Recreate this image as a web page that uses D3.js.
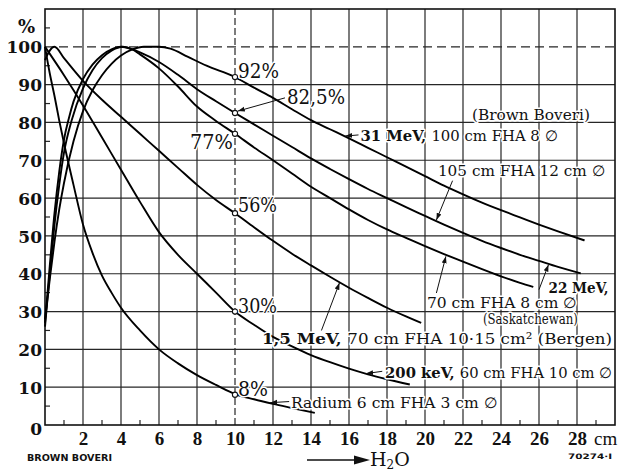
<!DOCTYPE html>
<html>
<head>
<meta charset="utf-8">
<script src="https://cdn.jsdelivr.net/npm/d3@7"></script>
<style>
  body { margin: 0; background: #fff; }
  svg text { font-family: "DejaVu Serif", serif; fill: #111; }
  .halo { paint-order: stroke; stroke: #fff; stroke-width: 3px; stroke-linejoin: round; }
</style>
</head>
<body>
<svg id="chart" width="621" height="471"></svg>
<script>
// depth in water (cm) against dose (% of maximum)
const radium = [[0, 100], [0.25, 93], [0.5, 87], [0.75, 80.5], [1, 74.5], [1.5, 63.5], [2, 53], [2.5, 45.5], [3, 39.5], [3.5, 35], [4, 31], [5, 25], [6, 20], [7, 16.3], [8, 13.2], [9, 10.6], [10, 8.2], [11, 6.8], [12, 5.6], [13, 4.5], [14.2, 3.2]];
const kev200 = [[0, 100], [1, 92.5], [2, 84.5], [3, 76], [4, 67.5], [5, 59], [6, 51], [7, 45], [8, 40], [9, 35], [10, 30], [11, 26.5], [12, 23.3], [13, 20.8], [14, 18.5], [15, 16.6], [16, 14.9], [17, 13.4], [18, 12.1], [19.2, 10.7]];
const mev15 = [[0, 96.5], [0.25, 99], [0.5, 100], [1, 97], [2, 91], [3, 86], [4, 81.5], [5, 77], [6, 72.5], [7, 68], [8, 63.5], [9, 59.5], [10, 56], [11, 52.3], [12, 48.7], [13, 45.3], [14, 42.2], [15, 39.2], [16, 36.3], [17, 33.6], [18, 31], [19, 28.7], [19.8, 27]];
const mev31 = [[0, 28], [0.25, 38.5], [0.5, 48.5], [0.75, 57], [1, 64], [1.5, 75], [2, 83], [2.5, 88.5], [3, 92.5], [3.5, 95.5], [4, 97.7], [4.6, 99.3], [5.2, 100], [6, 100], [6.6, 99.5], [7.5, 97.4], [8.5, 95], [10, 92], [11, 89.2], [12, 86.5], [13, 83.5], [14, 80.6], [15, 78.2], [16, 75.8], [17, 73.3], [18, 70.8], [19, 68.3], [20, 65.8], [21, 63.3], [22, 61], [23, 58.8], [24, 56.8], [25, 54.9], [26, 53], [27, 51.2], [28.4, 48.8]];
const mev22wide = [[0, 27], [0.25, 42], [0.5, 56], [0.75, 67], [1, 75.5], [1.25, 81], [1.5, 85.5], [2, 91.5], [2.5, 95.3], [3, 97.8], [3.5, 99.3], [4, 100], [4.6, 99.3], [5, 98.5], [6, 96], [7, 92.6], [8, 88.8], [9, 85.6], [10, 82.5], [11, 79.5], [12, 76.5], [13, 73.5], [14, 70.5], [15, 67.7], [16, 65], [17, 62.4], [18, 60], [19, 57.6], [20, 55.3], [21, 53], [22, 50.8], [23, 48.7], [24, 46.8], [25, 45], [26, 43.4], [27, 41.8], [28.2, 40.1]];
const mev22 = [[0, 26], [0.25, 40], [0.5, 53], [0.75, 63.5], [1, 72], [1.4, 80.5], [2, 89], [2.5, 93.8], [3, 97], [3.5, 99], [4.1, 100], [4.6, 99.3], [5, 98], [6, 94.3], [7, 89.5], [8, 84.2], [9, 80.4], [10, 77], [11, 73.4], [12, 70], [13, 66.5], [14, 63], [15, 60], [16, 57], [17, 54.2], [18, 51.7], [19, 49.5], [20, 47.3], [21, 45.2], [22, 43.2], [23, 41.2], [24, 39.3], [25, 37.6], [25.7, 36.5]];

const markerDepth = 10;
const markerDose = [92, 82.5, 77, 56, 30, 8];
const markerText = ['92%', '82,5%', '77%', '56%', '30%', '8%'];

const xTicks = [2, 4, 6, 8, 10, 12, 14, 16, 18, 20, 22, 24, 26, 28];
const yTicks = [0, 10, 20, 30, 40, 50, 60, 70, 80, 90, 100];

const svg = d3.select('#chart');

const x = d3.scaleLinear().domain([0, 30]).range([45, 615]);
const y = d3.scaleLinear().domain([0, 110]).range([425, 9]);

svg.append('defs')
  .append('marker')
  .attr('id', 'head')
  .attr('viewBox', '0 0 10 10')
  .attr('refX', 10)
  .attr('refY', 5)
  .attr('markerWidth', 7)
  .attr('markerHeight', 7)
  .attr('orient', 'auto')
  .append('path')
  .attr('d', 'M0,1.5 L10,5 L0,8.5 Z')
  .attr('fill', '#111');

// grid
const grid = svg.append('g').attr('stroke', '#262626').attr('stroke-width', 1.2);
grid.selectAll('line.v')
  .data(d3.range(2, 30, 2))
  .enter()
  .append('line')
  .attr('x1', d => x(d)).attr('x2', d => x(d))
  .attr('y1', y(0)).attr('y2', y(110))
  .attr('stroke-dasharray', d => d === 10 ? '7,3' : null);
grid.selectAll('line.h')
  .data(d3.range(10, 110, 10))
  .enter()
  .append('line')
  .attr('x1', x(0)).attr('x2', x(30))
  .attr('y1', d => y(d)).attr('y2', d => y(d))
  .attr('stroke-dasharray', d => d === 100 ? '9,5' : null);

// minor ticks on the axes
grid.selectAll('line.mx')
  .data(d3.range(1, 30, 2))
  .enter()
  .append('line')
  .attr('x1', d => x(d)).attr('x2', d => x(d))
  .attr('y1', y(0)).attr('y2', y(0) - 5);
grid.selectAll('line.my')
  .data(d3.range(5, 110, 10))
  .enter()
  .append('line')
  .attr('x1', x(0)).attr('x2', x(0) + 5)
  .attr('y1', d => y(d)).attr('y2', d => y(d));

// frame
svg.append('rect')
  .attr('x', x(0)).attr('y', y(110))
  .attr('width', x(30) - x(0)).attr('height', y(0) - y(110))
  .attr('fill', 'none').attr('stroke', '#111').attr('stroke-width', 1.6);

// axes labels
const xAxis = svg.append('g')
  .attr('transform', `translate(0,${y(0)})`)
  .call(d3.axisBottom(x).tickValues(xTicks).tickSize(0).tickPadding(6));
xAxis.select('.domain').remove();
xAxis.selectAll('text')
  .attr('dy', '0.75em')
  .style('font-family', '"Liberation Serif", serif')
  .style('font-weight', 'bold')
  .style('font-size', '19px')
  .style('fill', '#111');

const yAxis = svg.append('g')
  .attr('transform', `translate(${x(0)},0)`)
  .call(d3.axisLeft(y).tickValues(yTicks).tickSize(0).tickPadding(3));
yAxis.select('.domain').remove();
yAxis.selectAll('text')
  .attr('dy', d => d === 0 ? '0.55em' : '0.36em')
  .style('font-family', '"DejaVu Serif", serif')
  .style('font-weight', 'bold')
  .style('font-size', '17px')
  .style('fill', '#111');

svg.append('text')
  .attr('x', x(28) + 17).attr('y', y(0) + 20)
  .style('font-family', '"Liberation Serif", serif')
  .style('font-size', '19px')
  .text('cm');

svg.append('text')
  .attr('x', 18).attr('y', 33)
  .style('font-weight', 'bold')
  .style('font-size', '18px')
  .text('%');

// curves
const line = d3.line()
  .x(d => x(d[0]))
  .y(d => y(d[1]))
  .curve(d3.curveMonotoneX);

svg.append('g')
  .selectAll('path')
  .data([radium, kev200, mev15, mev31, mev22wide, mev22])
  .enter()
  .append('path')
  .attr('d', line)
  .attr('fill', 'none')
  .attr('stroke', '#000')
  .attr('stroke-width', 1.9);

// values at 10 cm
svg.append('g')
  .selectAll('circle')
  .data(markerDose)
  .enter()
  .append('circle')
  .attr('cx', x(markerDepth))
  .attr('cy', d => y(d))
  .attr('r', 2.6)
  .attr('fill', '#fff')
  .attr('stroke', '#111')
  .attr('stroke-width', 1.1);

// label offsets from each marker: dx, dy, anchor, width
const markerPlace = [
  [3, 1, 'start', 41],
  [52, -9, 'start', 58],
  [-2, 15, 'end', 43],
  [3, -1, 'start', 39],
  [3, 1, 'start', 39],
  [3, 1, 'start', 30]
];
svg.append('g')
  .selectAll('text')
  .data(markerDose)
  .enter()
  .append('text')
  .attr('class', 'halo')
  .attr('x', (d, i) => x(markerDepth) + markerPlace[i][0])
  .attr('y', (d, i) => y(d) + markerPlace[i][1])
  .attr('text-anchor', (d, i) => markerPlace[i][2])
  .attr('textLength', (d, i) => markerPlace[i][3])
  .attr('lengthAdjust', 'spacingAndGlyphs')
  .style('font-size', '20px')
  .text((d, i) => markerText[i]);

// curve annotations: [bold part, rest, depth at left, dose at baseline, width]
const notes = [
  ['', '(Brown  Boveri)', 22.47, 80.6, 118],
  ['31 MeV, ', '100 cm FHA 8 \u2205', 16.6, 75.1, 197],
  ['', '105 cm FHA 12 cm \u2205', 20.68, 65.8, 167],
  ['22 MeV,', '', 26.5, 35.0, 60],
  ['', '70 cm FHA 8 cm \u2205', 20.1, 31.0, 150],
  ['', '(Saskatchewan)', 23.05, 26.6, 95],
  ['1,5 MeV, ', '70 cm FHA  10\u00b715 cm\u00b2  (Bergen)', 11.42, 21.5, 350],
  ['200 keV, ', '60 cm FHA 10 cm \u2205', 17.9, 12.4, 227],
  ['', 'Radium  6 cm FHA 3 cm \u2205', 12.95, 4.5, 206]
];
const noteText = svg.append('g')
  .selectAll('text')
  .data(notes)
  .enter()
  .append('text')
  .attr('class', 'halo')
  .attr('x', d => x(d[2]))
  .attr('y', d => y(d[3]))
  .attr('textLength', d => d[4])
  .attr('lengthAdjust', 'spacingAndGlyphs')
  .style('font-size', '15px');
noteText.append('tspan').style('font-weight', 'bold').text(d => d[0]);
noteText.append('tspan').text(d => d[1]);

// leader arrows: from [depth, dose] to [depth, dose]
const leaders = [
  [[12.63, 86.5], [10.15, 83.0]],
  [[16.5, 76.7], [15.8, 76.4]],
  [[21.45, 64.6], [20.6, 54.2]],
  [[20.6, 34.9], [21.1, 44.6]],
  [[26.0, 35.8], [26.5, 42.4]],
  [[14.55, 25.0], [15.5, 37.6]],
  [[17.75, 14.2], [16.9, 13.6]],
  [[12.85, 6.2], [11.85, 5.9]]
];
svg.append('g')
  .selectAll('line')
  .data(leaders)
  .enter()
  .append('line')
  .attr('x1', d => x(d[0][0])).attr('y1', d => y(d[0][1]))
  .attr('x2', d => x(d[1][0])).attr('y2', d => y(d[1][1]))
  .attr('stroke', '#111')
  .attr('stroke-width', 1)
  .attr('marker-end', 'url(#head)');

// footer
svg.append('text')
  .attr('x', 27).attr('y', 461)
  .attr('textLength', 85)
  .attr('lengthAdjust', 'spacingAndGlyphs')
  .style('font-family', '"DejaVu Sans", sans-serif')
  .style('font-weight', 'bold')
  .style('font-size', '8.5px')
  .text('BROWN  BOVERI');

svg.append('text')
  .attr('x', 568).attr('y', 459)
  .attr('textLength', 44)
  .attr('lengthAdjust', 'spacingAndGlyphs')
  .style('font-family', '"DejaVu Sans", sans-serif')
  .style('font-weight', 'bold')
  .style('font-size', '7.5px')
  .text('70274\u00b7I');

svg.append('line')
  .attr('x1', 307).attr('x2', 360)
  .attr('y1', 460).attr('y2', 460)
  .attr('stroke', '#111')
  .attr('stroke-width', 1.6);
svg.append('path')
  .attr('d', 'M354,455.5 L370,460 L354,464.5 Z')
  .attr('fill', '#111');
const h2o = svg.append('text')
  .attr('x', 370).attr('y', 466)
  .style('font-size', '19px');
h2o.append('tspan').text('H');
h2o.append('tspan').attr('dy', 3).style('font-size', '12px').text('2');
h2o.append('tspan').attr('dy', -3).text('O');
</script>
</body>
</html>
